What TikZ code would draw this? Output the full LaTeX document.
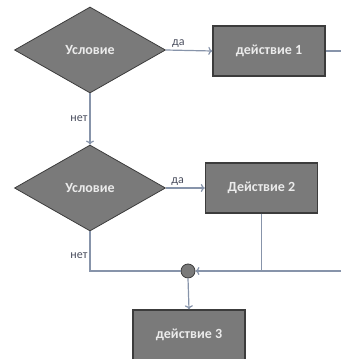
\documentclass[tikz,border=0pt]{standalone}
\usepackage{fontspec}
\setmainfont{Carlito}
\usetikzlibrary{shapes.geometric,arrows.meta}
\definecolor{shapefill}{HTML}{7A7A7A}
\definecolor{shapeedge}{HTML}{3C3C3C}
\definecolor{flowline}{HTML}{8794AA}
\definecolor{labeltext}{HTML}{4A4E5E}
\tikzset{
  cond/.style={diamond,aspect=1.76,minimum width=151pt,minimum height=86pt,inner sep=0pt,
    fill=shapefill,draw=shapeedge,line width=0.8pt,text=white!92!black,
    font=\bfseries\fontsize{14}{16}\selectfont},
  act/.style={rectangle,minimum width=112pt,minimum height=50pt,inner sep=0pt,
    fill=shapefill,draw=shapeedge,line width=1.4pt,text=white!92!black,
    font=\bfseries\fontsize{14}{16}\selectfont},
  joint/.style={circle,minimum size=14pt,inner sep=0pt,fill=shapefill,draw=shapeedge,line width=0.8pt},
  flow/.style={draw=flowline,line width=1.2pt},
  arr/.style={flow,-{To[length=4pt,width=8pt]}},
  lbl/.style={text=labeltext,font=\fontsize{12}{14}\selectfont,inner sep=2pt}
}
\begin{document}
\begin{tikzpicture}[x=1pt,y=-1pt]

    \useasboundingbox (0,0) rectangle (341,359);

    % shapes
    \node[cond] (cond1) at (90,50) {Условие};
    \node[act] (act1) at (269,51) {действие 1};
    \node[cond] (cond2) at (90,188) {Условие};
    \node[act] (act2) at (261.5,188) {Действие 2};
    \node[joint] (join) at (188,271) {};
    \node[act] (act3) at (189,335) {действие 3};

    % free ends at the right border
    \coordinate (out1) at (341,51);
    \coordinate (in3) at (341,271);

    % connectors
    \draw[arr]
      (cond1.east) -- node[lbl,above,pos=0.27] {да} (act1.west);
    \draw[flow]
      (act1.east) -- (out1);
    \draw[arr]
      (cond1.south) -- node[lbl,left,midway] {нет} (cond2.north);
    \draw[arr]
      (cond2.east) -- node[lbl,above,pos=0.3] {да} (act2.west);
    \draw[flow]
      (cond2.south) |- node[lbl,left,pos=0.31] {нет} (join.west);
    \draw[flow]
      (act2.south) -- (act2.south |- join);
    \draw[arr]
      (in3) -- (join.east);
    \draw[arr]
      (join.south) -- (act3.north);

\end{tikzpicture}
\end{document}
